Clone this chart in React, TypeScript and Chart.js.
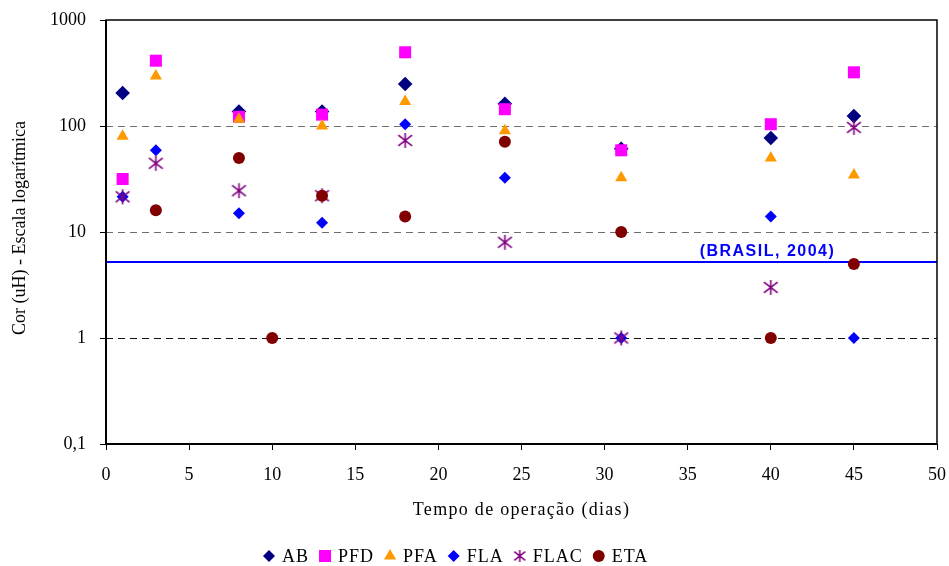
import React, { useEffect, useRef } from 'react';
import { Chart, registerables } from 'chart.js';
import { drawPoint } from 'chart.js/helpers';

Chart.register(...registerables);

// ---- data ----
const daysMain = [1, 3, 8, 13, 18, 24, 31, 40, 45];
const daysETA = [3, 8, 10, 13, 18, 24, 31, 40, 45];
const AB = [205, null, 137, 137, 249, 162, 61, 77, 124];
const PFD = [31.6, 413, 122, 128, 496, 144, 59, 104, 321];
const PFA = [80, 296, 116, 100, 170, 90, 32.5, 50, 34.5];
const FLA = [21.5, 59, 15, 12.2, 104, 32.5, 1, 14, 1];
const FLAC = [21.5, 44.5, 24.5, 22, 73, 8, 1, 3, 97];
const ETA = [16, 50, 1, 22, 14, 71, 10, 1, 5];
const brasilLimit = 5.2;
const brasilLabel = '(BRASIL, 2004)';
const xRange = [0, 50];
const yTicks = [0.1, 1, 10, 100, 1000];
const xTitle = 'Tempo de operação (dias)';
const yTitle = 'Cor (uH) - Escala logarítmica';

const SERIF = '"Liberation Serif", "Times New Roman", serif';
const SANS = '"Liberation Sans", Arial, sans-serif';

function toPoints(xs: number[], ys: (number | null)[]) {
  const out: { x: number; y: number }[] = [];
  xs.forEach((x, i) => {
    const y = ys[i];
    if (y !== null && y !== undefined) out.push({ x, y });
  });
  return out;
}

function makeStar(size: number, lw: number, color: string) {
  const c = document.createElement('canvas');
  c.width = size;
  c.height = size;
  const g = c.getContext('2d')!;
  g.strokeStyle = color;
  g.lineWidth = lw;
  const m = size / 2;
  const a = size / 2 - 1;
  g.beginPath();
  g.moveTo(m, m - a);
  g.lineTo(m, m + a);
  const dx = a * 0.92;
  const dy = a * 0.72;
  g.moveTo(m - dx, m - dy);
  g.lineTo(m + dx, m + dy);
  g.moveTo(m + dx, m - dy);
  g.lineTo(m - dx, m + dy);
  g.stroke();
  return c;
}

export default function App() {
  const ref = useRef<HTMLCanvasElement | null>(null);

  useEffect(() => {
    if (!ref.current) return;
    const starBig = makeStar(17, 1.6, '#800080');
    const starSmall = makeStar(14, 1.5, '#800080');

    const series = [
      { label: 'AB', data: toPoints(daysMain, AB), color: '#000080', style: 'rectRot', r: 7.3, lr: 6, order: 6 },
      { label: 'PFD', data: toPoints(daysMain, PFD), color: '#FF00FF', style: 'rect', r: 8.5, lr: 8.5, order: 5 },
      { label: 'PFA', data: toPoints(daysMain, PFA), color: '#FF9900', style: 'triangle', r: 7, lr: 7, order: 4 },
      { label: 'FLA', data: toPoints(daysMain, FLA), color: '#0000FF', style: 'rectRot', r: 6, lr: 6, order: 3 },
      { label: 'FLAC', data: toPoints(daysMain, FLAC), color: '#800080', style: starBig as any, r: 8, lr: 7, order: 2, legendImg: starSmall },
      { label: 'ETA', data: toPoints(daysETA, ETA), color: '#800000', style: 'circle', r: 6, lr: 6, order: 1 },
    ];

    const datasets: any[] = series.map((s) => ({
      label: s.label,
      data: s.data,
      pointStyle: s.style,
      pointRadius: s.r,
      pointHoverRadius: s.r,
      pointBackgroundColor: s.color,
      pointBorderColor: s.color,
      pointBorderWidth: 0,
      backgroundColor: s.color,
      borderColor: s.color,
      showLine: false,
      order: s.order,
      _legendRadius: s.lr,
      _legendImg: (s as any).legendImg,
    }));
    datasets.push({
      label: 'limit',
      data: [
        { x: xRange[0], y: brasilLimit },
        { x: xRange[1], y: brasilLimit },
      ],
      showLine: true,
      borderColor: '#0000FF',
      borderWidth: 2,
      pointRadius: 0,
      order: 10,
      _isLimit: true,
    });

    const overlay = {
      id: 'overlay',
      afterDraw(chart: any) {
        const { ctx, chartArea } = chart;
        const { left, right, top, bottom } = chartArea;
        ctx.save();
        // plot box
        ctx.strokeStyle = '#000';
        ctx.lineWidth = 1.5;
        ctx.strokeRect(left, top, right - left, bottom - top);
        ctx.lineWidth = 2;
        ctx.beginPath();
        ctx.moveTo(left, top);
        ctx.lineTo(left, bottom);
        ctx.lineTo(right, bottom);
        ctx.stroke();

        // y title
        ctx.fillStyle = '#000';
        ctx.font = `18px ${SERIF}`;
        ctx.textAlign = 'center';
        ctx.textBaseline = 'middle';
        ctx.save();
        ctx.translate(20, (top + bottom) / 2 - 4);
        ctx.rotate(-Math.PI / 2);
        ctx.fillText(yTitle, 0, 0);
        ctx.restore();

        // x title
        (ctx as any).letterSpacing = '1.3px';
        ctx.fillText(xTitle, (left + right) / 2, bottom + 66);

        // limit label
        const xs = chart.scales.x;
        const ys = chart.scales.y;
        ctx.font = `bold 16px ${SANS}`;
        (ctx as any).letterSpacing = '1.5px';
        ctx.fillStyle = '#0000FF';
        ctx.fillText(brasilLabel, xs.getPixelForValue(39.8), ys.getPixelForValue(brasilLimit) - 11);

        // legend
        ctx.font = `18px ${SERIF}`;
        (ctx as any).letterSpacing = '1px';
        ctx.textAlign = 'left';
        const ly = 556;
        let cx = 269;
        chart.data.datasets.forEach((ds: any) => {
          if (ds._isLimit) return;
          ctx.fillStyle = ds.pointBackgroundColor;
          ctx.strokeStyle = ds.pointBorderColor;
          if (ds._legendImg) {
            const img = ds._legendImg;
            ctx.drawImage(img, cx - img.width / 2, ly - img.height / 2);
          } else {
            drawPoint(ctx, { pointStyle: ds.pointStyle, radius: ds._legendRadius, rotation: 0, borderWidth: 0 } as any, cx, ly);
          }
          ctx.fillStyle = '#000';
          const tx = cx + 13;
          ctx.fillText(ds.label, tx, ly + 1);
          const w = ctx.measureText(ds.label).width;
          cx = tx + w + 16;
        });
        ctx.restore();
      },
    };

    const chart = new Chart(ref.current, {
      type: 'scatter',
      data: { datasets },
      plugins: [overlay],
      options: {
        animation: false,
        responsive: false,
        maintainAspectRatio: false,
        layout: { padding: { top: 20, right: 12, left: 0, bottom: 0 } },
        plugins: {
          legend: { display: false },
          tooltip: { enabled: false },
        },
        scales: {
          x: {
            type: 'linear',
            min: xRange[0],
            max: xRange[1],
            ticks: {
              stepSize: 5,
              color: '#000',
              font: { family: SERIF, size: 18 },
              padding: 14,
              maxRotation: 0,
            },
            grid: {
              drawOnChartArea: false,
              drawTicks: true,
              tickLength: 6,
              tickColor: '#000',
              tickWidth: 1,
            },
            border: { display: false },
            afterFit(scale: any) {
              scale.height = 122;
              scale.paddingLeft = 0;
              scale.paddingRight = 0;
            },
          },
          y: {
            type: 'logarithmic',
            min: yTicks[0],
            max: yTicks[yTicks.length - 1],
            afterBuildTicks(scale: any) {
              scale.ticks = yTicks.map((v) => ({ value: v }));
            },
            ticks: {
              color: '#000',
              font: { family: SERIF, size: 18 },
              padding: 14,
              callback: (v: any) => String(v).replace('.', ','),
            },
            grid: {
              drawOnChartArea: true,
              drawTicks: true,
              tickLength: 6,
              tickColor: '#000',
              tickWidth: 1,
              tickBorderDash: [],
              lineWidth: 1,
              color: (c: any) => {
                const v = c.tick ? c.tick.value : null;
                if (v === 1) return '#111';
                if (v === 10 || v === 100) return '#6e6e6e';
                return 'rgba(0,0,0,0)';
              },
            },
            border: { display: false, dash: [7, 5] },
            afterFit(scale: any) {
              scale.width = 106;
              scale.paddingTop = 0;
              scale.paddingBottom = 0;
            },
          },
        },
      } as any,
    });
    return () => chart.destroy();
  }, []);

  return (
    <div style={{ position: 'fixed', left: 0, top: 0, width: 949, height: 566, background: '#fff' }}>
      <canvas ref={ref} width={949} height={566} style={{ display: 'block' }} />
    </div>
  );
}
